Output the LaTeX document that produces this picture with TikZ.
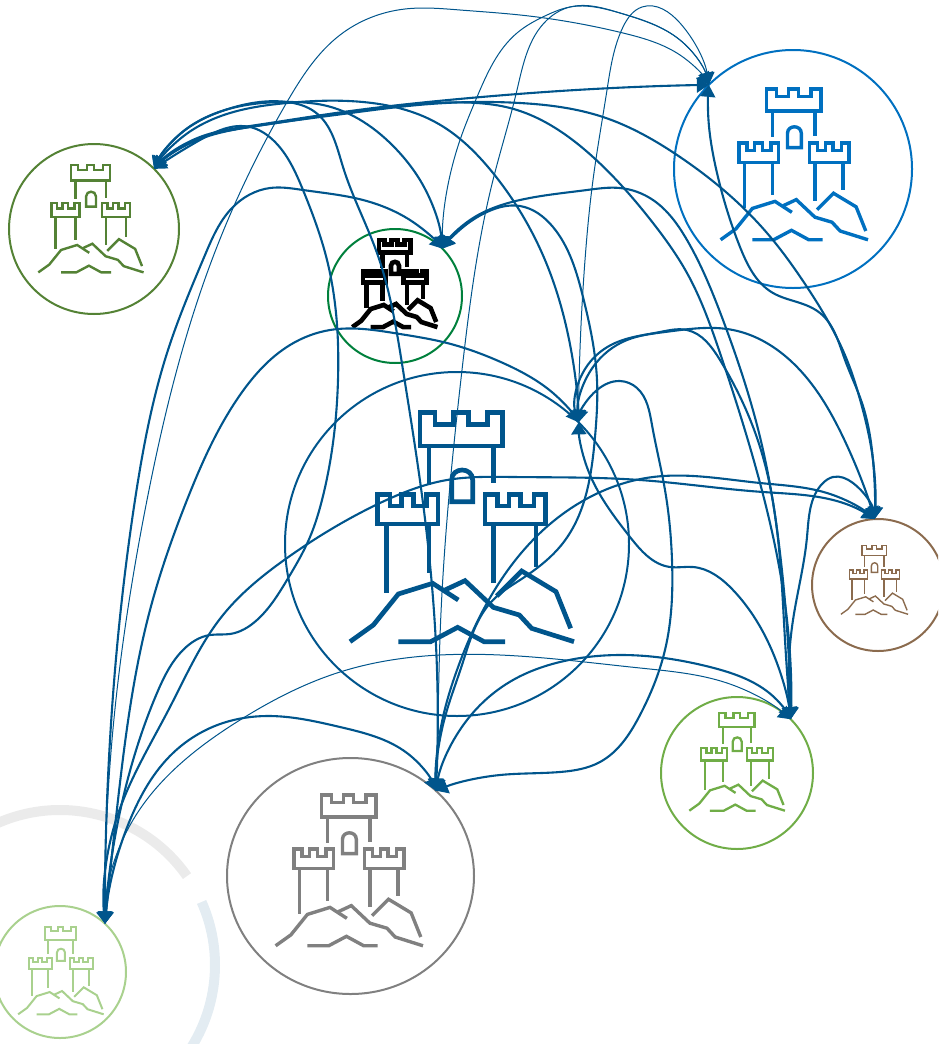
\documentclass[tikz,border=0pt]{standalone}
\usetikzlibrary{arrows.meta,shapes.geometric,hobby}
\definecolor{linkc}{HTML}{00558C}
\definecolor{cblue}{HTML}{0070C0}
\definecolor{cdg}{HTML}{548235}
\definecolor{cring}{HTML}{00803C}
\definecolor{cbrown}{HTML}{8B6B4E}
\definecolor{clg}{HTML}{70AD47}
\definecolor{cgrey}{HTML}{808080}
\definecolor{cpg}{HTML}{A9D18E}
\tikzset{
  ring/.style={circle,draw,inner sep=0pt,outer sep=0pt,line width=2pt},
  link/.style={use Hobby shortcut,draw=linkc,line width=2.1pt,{Triangle[length=12pt,width=15pt]}-{Triangle[length=12pt,width=15pt]}},
  finelink/.style={link,line width=1pt}
}
\newcommand{\castleicon}[5]{%
  \pgfmathsetmacro{\sx}{#3/3}
  \begin{scope}[shift={(#1,#2)},x=\sx pt,y=-\sx pt,shift={(-531,-522)},draw=#4,line width=#5pt,miter limit=10]
    \draw (420,128)--(465,128)--(465,163)--(520,163)--(520,128)--(565,128)--(565,163)--(622,163)--(622,128)--(668,128)--(668,228)--(420,228)--cycle;
    \draw (447,228)--(447,345) (641,228)--(641,340);
    \draw (515,395)--(515,330) .. controls (515,290) and (578,290) .. (578,330)--(578,395)--cycle;
    \draw (293,373)--(330,373)--(330,408)--(365,408)--(365,373)--(400,373)--(400,408)--(440,408)--(440,373)--(474,373)--(474,462)--(293,462)--cycle;
    \draw (320,462)--(320,668) (447,462)--(447,610);
    \draw (615,373)--(652,373)--(652,408)--(687,408)--(687,373)--(722,373)--(722,408)--(762,408)--(762,373)--(796,373)--(796,462)--(615,462)--cycle;
    \draw (641,462)--(641,640) (768,462)--(768,590);
    \draw (210,815)--(280,765)--(355,672)--(458,640)--(535,690);
    \draw (495,660)--(555,632)--(640,712)--(718,735)--(755,775)--(882,815);
    \draw (650,678)--(725,603)--(828,665)--(872,775);
    \draw (355,815)--(452,815)--(533,772)--(612,815)--(675,815);
  \end{scope}}
\begin{document}
\begin{tikzpicture}[x=1pt,y=-1pt]
\clip (0,0) rectangle (938,1044);
\useasboundingbox (0,0) rectangle (938,1044);
% faint background arcs
\begin{scope}[shift={(60,965)},y=1pt]
  \draw[color=black!8,line width=10pt] (118:155) arc[start angle=118,end angle=35,radius=155pt];
  \draw[color=linkc!11,line width=10pt] (24:155) arc[start angle=24,end angle=-40,radius=155pt];
\end{scope}
% nodes
\node[ring,draw=cblue,minimum size=238pt] (nbl) at (793,169) {};
\node[ring,draw=cdg,minimum size=170pt] (ndg) at (94,229) {};
\node[ring,draw=cring,minimum size=134pt] (nk) at (395,296) {};
\node[ring,draw=linkc,minimum size=344pt] (nc) at (457,544) {};
\node[ring,draw=cbrown,minimum size=132pt] (nbr) at (878,585) {};
\node[ring,draw=clg,minimum size=152pt] (nlg) at (737,773) {};
\node[ring,ellipse,draw=cgrey,minimum width=247pt,minimum height=236pt] (ngy) at (350.5,876) {};
\node[ring,draw=cpg,minimum size=132pt] (npg) at (60,972) {};
% icons
\castleicon{791}{175.5}{0.658}{cblue}{3.4}
\castleicon{88.6}{226.5}{0.47}{cdg}{2.4}
\castleicon{393}{290}{0.38}{black}{4.6}
\castleicon{457}{544}{1}{linkc}{4.7}
\castleicon{873}{585}{0.30}{cbrown}{1.4}
\castleicon{735}{769}{0.427}{clg}{2.3}
\castleicon{346}{881.5}{0.658}{cgrey}{3.4}
\castleicon{59}{977}{0.382}{cpg}{2}
% connectors
\draw[finelink] (npg.47) .. (112,740) .. (147,500) .. (213,257) .. (287,102) .. (340,35) .. (405,9) .. (460,10) .. (520,15) .. (623,33) .. (680,55) .. (nbl.135);
\draw[link] (npg.47) .. (110,740) .. (135,500) .. (168,350) .. (205,255) .. (232,208) .. (270,188) .. (303,190) .. (363,200) .. (413,222) .. (nk.45);
\draw[link] (npg.47) .. (118,800) .. (150,610) .. (187,500) .. (240,395) .. (290,345) .. (330,330) .. (400,334) .. (443,342) .. (503,363) .. (553,393) .. (nc.45);
\draw[link] (npg.47) .. (125,790) .. (157,693) .. (183,650) .. (210,635) .. (230,634) .. (257,620) .. (287,580) .. (310,537) .. (322,500) .. (338,380) .. (327,260) .. (303,190) .. (273,140) .. (250,127) .. (200,140) .. (ndg.45);
\draw[link] (npg.47) .. (117,817) .. (170,707) .. (223,615) .. (287,558) .. (380,503) .. (447,480) .. (513,477) .. (640,480) .. (763,492) .. (860,510) .. (nbr.93);
\draw[link] (ngy.45) .. (443,717) .. (457,670) .. (487,603) .. (540,533) .. (590,497) .. (653,477) .. (760,483) .. (827,493) .. (nbr.93);
\draw[link] (nk.45) .. (462,228) .. (487,212) .. (520,206) .. (553,227) .. (583,297) .. (597,380) .. (595,437) .. (563,543) .. (520,580) .. (493,600) .. (462,665) .. (445,717) .. (ngy.45);
\draw[link] (ndg.45) .. (185,135) .. (230,113) .. (287,103) .. (363,102) .. (437,123) .. (493,173) .. (545,260) .. (567,330) .. (nc.45);
\draw[link] (nk.45) .. (470,220) .. (520,200) .. (587,190) .. (620,188) .. (653,200) .. (687,240) .. (723,320) .. (760,437) .. (780,553) .. (790,687) .. (nlg.45);
\draw[link] (ndg.45) .. (200,138) .. (250,127) .. (343,113) .. (420,104) .. (477,103) .. (510,108) .. (593,157) .. (653,223) .. (687,273) .. (720,353) .. (760,483) .. (787,620) .. (nlg.45);
\draw[link] (ndg.45) .. (200,139) .. (250,127) .. (343,114) .. (430,104) .. (520,103) .. (603,117) .. (680,157) .. (720,187) .. (767,233) .. (807,287) .. (847,360) .. (861,403) .. (873,460) .. (nbr.93);
\draw[link] (nbl.135) .. (708,110) .. (717,173) .. (740,247) .. (773,293) .. (797,302) .. (820,313) .. (845,360) .. (862,403) .. (873,460) .. (nbr.93);
\draw[link] (ndg.45) .. (200,137) .. (250,126) .. (343,112) .. (470,98) .. (560,91) .. (nbl.135);
\draw[link] (ndg.45) .. (185,130) .. (225,110) .. (287,102) .. (315,112) .. (343,167) .. (377,253) .. (403,370) .. (423,503) .. (437,670) .. (ngy.45);
\draw[link] (ndg.45) .. (185,130) .. (225,110) .. (290,102) .. (323,105) .. (397,150) .. (420,180) .. (nk.45);
\draw[finelink] (ngy.45) .. (438,717) .. (440,637) .. (462,370) .. (493,180) .. (517,90) .. (547,20) .. (570,7) .. (620,13) .. (680,40) .. (nbl.135);
\draw[finelink] (nk.45) .. (460,140) .. (477,97) .. (517,33) .. (547,15) .. (570,7) .. (620,13) .. (680,40) .. (nbl.135);
\draw[finelink] (nc.45) .. (585,260) .. (593,180) .. (607,90) .. (623,27) .. (642,7) .. (680,23) .. (nbl.135);
\draw[link] (nc.45) .. (593,367) .. (627,340) .. (665,332) .. (733,330) .. (793,363) .. (843,437) .. (nbr.93);
\draw[link] (nc.45) .. (590,362) .. (615,343) .. (660,332) .. (687,330) .. (720,360) .. (760,447) .. (785,640) .. (nlg.45);
\draw[link] (nc.45) .. (597,390) .. (620,381) .. (637,388) .. (652,425) .. (665,490) .. (672,560) .. (665,650) .. (640,715) .. (600,762) .. (560,772) .. (500,775) .. (ngy.45);
\draw[link] (nc.45) .. (588,470) .. (630,537) .. (670,567) .. (693,567) .. (733,590) .. (773,653) .. (nlg.45);
\draw[link] (nlg.45) .. (793,620) .. (807,537) .. (823,483) .. (833,477) .. (853,483) .. (nbr.93);
\draw[link] (nlg.45) .. (777,700) .. (710,667) .. (620,655) .. (560,662) .. (513,680) .. (467,720) .. (ngy.45);
\draw[finelink] (npg.47) .. (133,820) .. (240,720) .. (340,672) .. (440,655) .. (640,668) .. (727,683) .. (nlg.45);
\draw[link] (npg.47) .. (130,820) .. (173,753) .. (223,723) .. (267,716) .. (340,727) .. (407,753) .. (ngy.45);
\end{tikzpicture}
\end{document}
